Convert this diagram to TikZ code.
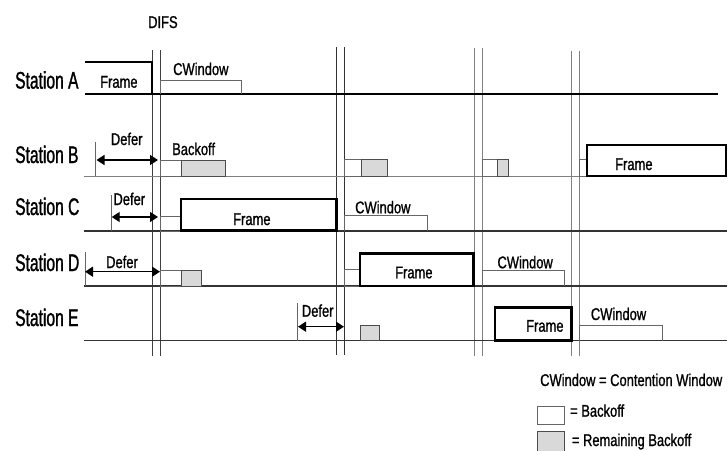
\documentclass[tikz,border=0pt]{standalone}
\usepackage{fontspec}
\setmainfont{Liberation Sans}
\newfontfamily\labfont[FakeStretch=0.65,FakeBold=1.2]{Liberation Sans}
\newfontfamily\txtfont[FakeStretch=0.76,FakeBold=1]{Liberation Sans}
\usetikzlibrary{arrows.meta}
\begin{document}
\begin{tikzpicture}[x=1pt,y=-1pt,
  baseA/.style={draw=black,line width=1.6pt},
  base/.style={draw=black!80,line width=1.1pt},
  baseB/.style={draw=black!50,line width=1pt},
  vline/.style={draw=black!75,line width=1pt},
  vlined/.style={draw=black!80,line width=1.3pt},
  vlinel/.style={draw=black!50,line width=0.9pt},
  win/.style={draw=black!60,line width=0.9pt},
  rem/.style={draw=black!70,fill=black!15,line width=0.9pt},
  frm/.style={draw=black,line width=2.6pt},
  deferarrow/.style={{Triangle[length=8pt,width=10pt]}-{Triangle[length=8pt,width=10pt]},line width=1.4pt},
  tickline/.style={draw=black!60,line width=0.8pt},
  sta/.style={anchor=base west,inner sep=0pt,font=\labfont\fontsize{24}{26}\selectfont},
  lbl/.style={anchor=base west,inner sep=0pt,font=\txtfont\fontsize{17}{19}\selectfont},
]
\useasboundingbox (0,0) rectangle (728,450);

% ---- vertical DIFS lines
\draw[vline] (152,50) -- (152,356);
\draw[vline] (160,50) -- (160,356);
\draw[vlined] (336.7,47) -- (336.7,355);
\draw[vlined] (344.7,47) -- (344.7,355);
\draw[vlinel] (474.3,48) -- (474.3,356);
\draw[vlinel] (482,48) -- (482,356);
\draw[vlinel] (571.7,50.7) -- (571.7,356);
\draw[vlinel] (579.3,50.7) -- (579.3,356);

% ---- station baselines
\draw[baseA] (85,94) -- (718,94);
\draw[baseB] (84,176) -- (587,176);
\draw[base] (84,231) -- (727,231);
\draw[base] (84,286) -- (727,286);
\draw[base] (84,340.7) -- (727,340.7);

% ---- labels
\node[lbl] (difs) at (148,28) {DIFS};
\node[sta] (sa) at (15,88.6) {Station A};
\node[sta] (sb) at (15,163) {Station B};
\node[sta] (sc) at (15,215) {Station C};
\node[sta] (sd) at (15,271) {Station D};
\node[sta] (se) at (15,326) {Station E};

% ---- Station A
\draw[frm] (85,62) -- (152,62) -- (152,94) -- (85,94);
\node[lbl] (fa) at (100,87.7) {Frame};
\draw[win] (160,94) -- (160,80) -- (241,80) -- (241,94);
\node[lbl] (cwa) at (173,75) {CWindow};

% ---- Station B
\draw[tickline] (95.5,142) -- (95.5,176);
\coordinate (bl) at (96.5,160);
\coordinate (br) at (158,160);
\draw[deferarrow] (bl) -- (br);
\node[lbl] (dfb) at (110.7,145) {Defer};
\draw[win] (160,160) rectangle (181,176);
\draw[rem] (181,160) rectangle (225,176);
\node[lbl] (bkb) at (172,155) {Backoff};
\draw[win] (344.7,159.5) rectangle (361,176);
\draw[rem] (361,159.5) rectangle (387,176);
\draw[win] (482,159.5) rectangle (497,176);
\draw[rem] (497,159.5) rectangle (508,176);
\draw[win] (579.3,159.5) rectangle (587,176);
\draw[frm] (587,145) rectangle (726,176);
\node[lbl] (fb) at (615,170) {Frame};

% ---- Station C
\draw[tickline] (111.7,195) -- (111.7,231);
\coordinate (cl) at (111.7,217);
\coordinate (cr) at (158,217);
\draw[deferarrow] (cl) -- (cr);
\node[lbl] (dfc) at (113.3,205) {Defer};
\draw[win] (160,216) rectangle (181,231);
\draw[frm] (181,199) rectangle (336.7,230.5);
\node[lbl] (fc) at (233,225) {Frame};
\draw[win] (344.7,231) -- (344.7,215) -- (427,215) -- (427,231);
\node[lbl] (cwc) at (355,213.3) {CWindow};

% ---- Station D
\draw[tickline] (85,252) -- (85,286);
\coordinate (dl) at (85,271.7);
\coordinate (dr) at (160,271.7);
\draw[deferarrow] (dl) -- (dr);
\node[lbl] (dfd) at (106,268) {Defer};
\draw[win] (160,270) rectangle (181,286);
\draw[rem] (181,270) rectangle (201,286);
\draw[win] (344.7,269.5) rectangle (360,286);
\draw[frm] (360,253.3) rectangle (473.3,286);
\node[lbl] (fd) at (395,278.3) {Frame};
\draw[win] (482,286) -- (482,270) -- (564,270) -- (564,286);
\node[lbl] (cwd) at (497.3,268.3) {CWindow};

% ---- Station E
\draw[tickline] (297.7,303) -- (297.7,340.7);
\coordinate (el) at (298,326.7);
\coordinate (er) at (344,326.7);
\draw[deferarrow] (el) -- (er);
\node[lbl] (dfe) at (301.7,316.7) {Defer};
\draw[rem] (360.7,325) rectangle (379.3,340.7);
\draw[frm] (495,307.7) rectangle (571.7,340.7);
\node[lbl] (fe) at (526,331.7) {Frame};
\draw[win] (579.3,340.7) -- (579.3,325) -- (662,325) -- (662,340.7);
\node[lbl] (cwe) at (590.7,320) {CWindow};

% ---- legend
\node[lbl] (lg1) at (540,386) {CWindow = Contention Window};
\draw[win] (537,406) rectangle (564,424);
\node[lbl] (lg2) at (570,416.7) {= Backoff};
\draw[rem] (537,431) rectangle (564,451);
\node[lbl] (lg3) at (571.7,446) {= Remaining Backoff};
\end{tikzpicture}
\end{document}
